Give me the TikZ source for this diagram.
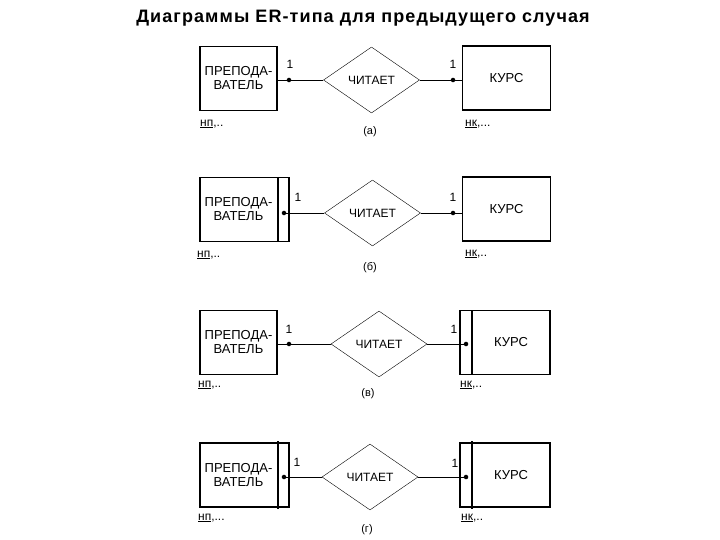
\documentclass[tikz,border=0pt]{standalone}
\usepackage{fontspec}
\setmainfont{Liberation Sans}
\usetikzlibrary{shapes.geometric}
\begin{document}
\begin{tikzpicture}[x=1pt,y=-1pt,
  ent/.style={draw,line width=1.6pt,minimum width=77pt,minimum height=64pt,inner sep=0pt,font=\fontsize{13}{14}\selectfont,align=center},
  kent/.style={ent,minimum width=88pt},
  rel/.style={draw,diamond,aspect=1.45,minimum width=96pt,minimum height=66pt,inner sep=0pt,font=\fontsize{12}{13}\selectfont},
  dot/.style={circle,fill,inner sep=1.6pt},
  lab/.style={font=\fontsize{12}{13}\selectfont,inner sep=0pt},
  capt/.style={font=\fontsize{11}{12}\selectfont,inner sep=0pt},
  conn/.style={line width=0.8pt}]
\useasboundingbox (0,0) rectangle (720,540);
\node[font=\bfseries\fontsize{18}{20}\selectfont\addfontfeature{LetterSpace=6}] (title) at (363,18) {Диаграммы ER-типа для предыдущего случая};
% (a)
\node[ent] (p1) at (238.5,78.5) {ПРЕПОДА-\\ВАТЕЛЬ};
\node[rel] (r1) at (371.5,80) {ЧИТАЕТ};
\node[kent] (k1) at (506.5,78) {КУРС};
\node[dot] (dp1) at (289,80) {};
\node[dot] (dk1) at (453,80) {};
\draw[conn] (p1.east|-dp1) -- (dp1) -- (r1.west);
\draw[conn] (r1.east) -- (dk1) -- (k1.west|-dk1);
\node[lab] (n1a) at (290,64) {1};
\node[lab] (n1b) at (453,64) {1};
\node[lab,anchor=west] (np1) at (200,124) {\underline{нп},..};
\node[lab,anchor=west] (nk1) at (465,124) {\underline{нк},...};
\node[capt] (c1) at (370,132) {(а)};
% (б)
\node[ent,minimum width=89pt] (p2) at (244.5,209.5) {\hspace*{-12pt}ПРЕПОДА-\\\hspace*{-12pt}ВАТЕЛЬ};
\draw[line width=1.2pt] (278,177) -- (278,242);
\node[rel] (r2) at (372.5,213) {ЧИТАЕТ};
\node[kent] (k2) at (506.5,209) {КУРС};
\node[dot] (dp2) at (284,213) {};
\node[dot] (dk2) at (453,213) {};
\draw[conn] (dp2) -- (r2.west);
\draw[conn] (r2.east) -- (dk2) -- (k2.west|-dk2);
\node[lab] (n2a) at (298,197) {1};
\node[lab] (n2b) at (453,197) {1};
\node[lab,anchor=west] (np2) at (197,255) {\underline{нп},..};
\node[lab,anchor=west] (nk2) at (465,254) {\underline{нк},..};
\node[capt] (c2) at (370,268) {(б)};
% (в)
\node[ent] (p3) at (238.5,342.5) {ПРЕПОДА-\\ВАТЕЛЬ};
\node[rel] (r3) at (379,344) {ЧИТАЕТ};
\node[kent,minimum width=90pt] (k3) at (505,342.5) {\hspace*{12pt}КУРС};
\draw[line width=1.2pt] (472,310) -- (472,375);
\node[dot] (dp3) at (289,344) {};
\node[dot] (dk3) at (466,344) {};
\draw[conn] (p3.east|-dp3) -- (dp3) -- (r3.west);
\draw[conn] (r3.east) -- (dk3);
\node[lab] (n3a) at (289,329) {1};
\node[lab] (n3b) at (454,329) {1};
\node[lab,anchor=west] (np3) at (198,385) {\underline{нп},..};
\node[lab,anchor=west] (nk3) at (460,385) {\underline{нк},..};
\node[capt] (c3) at (368,394) {(в)};
% (г)
\node[ent,minimum width=89pt] (p4) at (244.5,475) {\hspace*{-12pt}ПРЕПОДА-\\\hspace*{-12pt}ВАТЕЛЬ};
\draw[line width=1.2pt] (278,441) -- (278,509);
\node[rel] (r4) at (370,477) {ЧИТАЕТ};
\node[kent,minimum width=90pt] (k4) at (505,475) {\hspace*{12pt}КУРС};
\draw[line width=1.2pt] (472,441) -- (472,509);
\node[dot] (dp4) at (284,477) {};
\node[dot] (dk4) at (466,477) {};
\draw[conn] (dp4) -- (r4.west);
\draw[conn] (r4.east) -- (dk4);
\node[lab] (n4a) at (297,462) {1};
\node[lab] (n4b) at (455,463) {1};
\node[lab,anchor=west] (np4) at (198,518) {\underline{нп},...};
\node[lab,anchor=west] (nk4) at (461,518) {\underline{нк},..};
\node[capt] (c4) at (367,530) {(г)};
\end{tikzpicture}
\end{document}
